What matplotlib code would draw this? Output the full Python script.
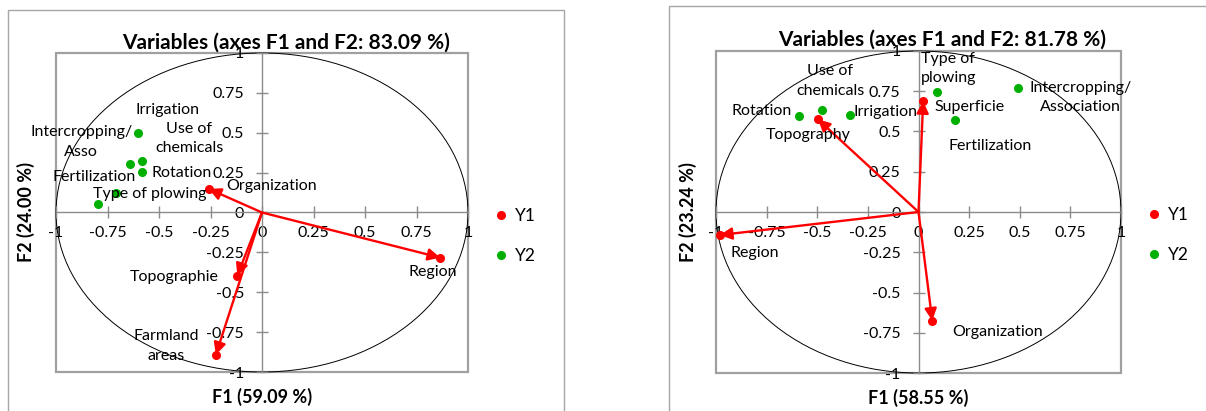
import matplotlib
matplotlib.use("Agg")
import matplotlib.pyplot as plt
from matplotlib.patches import Circle, Rectangle

plt.rcParams['font.family'] = ['Lato', 'DejaVu Sans']

# ---------------- data ----------------
titles = ["Variables (axes F1 and F2: 83.09 %)", "Variables (axes F1 and F2: 81.78 %)"]
xlabels = ["F1 (59.09 %)", "F1 (58.55 %)"]
ylabels = ["F2 (24.00 %)", "F2 (23.24 %)"]
ticks = [-1, -0.75, -0.5, -0.25, 0, 0.25, 0.5, 0.75, 1]
tick_labels = ["-1", "-0.75", "-0.5", "-0.25", "0", "0.25", "0.5", "0.75", "1"]
series_names = ["Y1", "Y2"]

# Left chart
left_y1_names = ["Organization", "Region", "Topographie", "Farmland\nareas"]
left_y1_x = [-0.259, 0.865, -0.120, -0.224]
left_y1_y = [0.148, -0.283, -0.396, -0.892]
left_y2_names = ["Irrigation", "Intercropping/\nAsso", "Use of\nchemicals", "Rotation",
                 "Fertilization", "Type of plowing"]
left_y2_x = [-0.600, -0.640, -0.582, -0.582, -0.709, -0.797]
left_y2_y = [0.496, 0.304, 0.321, 0.256, 0.123, 0.052]

# Right chart
right_y1_names = ["Topography", "Superficie", "Region", "Organization"]
right_y1_x = [-0.497, 0.023, -0.981, 0.068]
right_y1_y = [0.576, 0.689, -0.143, -0.675]
right_y2_names = ["Rotation", "Use of\nchemicals", "Irrigation", "Type of\nplowing",
                  "Fertilization", "Intercropping/\nAssociation"]
right_y2_x = [-0.591, -0.476, -0.337, 0.092, 0.178, 0.492]
right_y2_y = [0.598, 0.634, 0.604, 0.747, 0.571, 0.772]

# ---------------- styles ----------------
RED = "#ff0000"
GREEN = "#00b000"
# label offsets in pixels (dx, dy) from each point
left_y1_off = [(63, 3), (-7, -14), (-63, -1), (-50, 9)]
left_y2_off = [(29, 23), (-49, 22), (47, 23), (40, -1), (-22, 16), (52, 10)]
right_y1_off = [(-10, -16), (46, -6), (35, -18), (65, -11)]
right_y2_off = [(-37, 5), (8, 29), (35, 3), (11, 23), (36, -26), (62, -10)]

W, H = 1206, 411
fig = plt.figure(figsize=(W / 100, H / 100), dpi=100)


def fx(px):
    return px / W


def fy(py):
    return 1 - py / H


# panel borders (extend past the bottom / right of the image)
fig.patches.append(Rectangle((fx(8), fy(430)), fx(564 - 8), (430 - 9.5) / H, transform=fig.transFigure,
                             fill=False, edgecolor="#a6a6a6", lw=1.0))
fig.patches.append(Rectangle((fx(669), fy(430)), fx(560), (430 - 6) / H, transform=fig.transFigure,
                             fill=False, edgecolor="#a6a6a6", lw=1.0))

ax_rects = [
    [fx(56), fy(372), fx(468 - 56), (372 - 53) / H],
    [fx(716), fy(373), fx(1121 - 716), (373 - 51) / H],
]
title_pos = [(286, 43), (942, 40)]
xlabel_pos = [(262, 397), (918, 398)]
ylabel_pos = [(26, 212), (688, 212)]
legend_pos = [(495.5, 236), (1148.4, 235)]

charts = [
    (left_y1_x, left_y1_y, left_y1_names, left_y1_off, left_y2_x, left_y2_y, left_y2_names, left_y2_off),
    (right_y1_x, right_y1_y, right_y1_names, right_y1_off, right_y2_x, right_y2_y, right_y2_names, right_y2_off),
]

for i, (y1x, y1y, y1n, y1o, y2x, y2y, y2n, y2o) in enumerate(charts):
    ax = fig.add_axes(ax_rects[i])
    ax.set_xlim(-1, 1)
    ax.set_ylim(-1, 1)
    for s in ["top", "right"]:
        ax.spines[s].set_visible(False)
    for s in ["left", "bottom"]:
        ax.spines[s].set_position("zero")
        ax.spines[s].set_color("#8c8c8c")
        ax.spines[s].set_linewidth(1.0)
    ax.add_patch(Rectangle((0, 0), 1, 1, transform=ax.transAxes, fill=False,
                           edgecolor="#a0a0a0", lw=1.6, clip_on=False, zorder=0))
    ax.set_xticks(ticks)
    ax.set_xticklabels(tick_labels)
    ax.set_yticks(ticks)
    ax.set_yticklabels(tick_labels)
    ax.tick_params(direction="inout", length=8, width=1.0, color="#8c8c8c",
                   labelsize=11.5, labelcolor="black")
    ax.tick_params(axis="x", pad=6)
    ax.tick_params(axis="y", pad=9)
    ax.add_patch(Circle((0, 0), 1, fill=False, edgecolor="black", lw=0.7, clip_on=False, zorder=1))

    # arrows and Y1 points
    for x, y in zip(y1x, y1y):
        ax.annotate("", xy=(x, y), xytext=(0, 0),
                    arrowprops=dict(arrowstyle="-|>", color=RED, lw=1.7, mutation_scale=18,
                                    shrinkA=0, shrinkB=0), zorder=3)
    ax.plot(y1x, y1y, "o", color=RED, markersize=5.5, zorder=4, clip_on=False, label=series_names[0])
    ax.plot(y2x, y2y, "o", color=GREEN, markersize=5.5, zorder=4, clip_on=False, label=series_names[1])

    for x, y, n, o in list(zip(y1x, y1y, y1n, y1o)) + list(zip(y2x, y2y, y2n, y2o)):
        ax.annotate(n, xy=(x, y), xytext=o, textcoords="offset pixels", ha="center", va="center",
                    fontsize=11.5, linespacing=1.5, zorder=5)

    fig.text(fx(title_pos[i][0]), fy(title_pos[i][1]), titles[i], ha="center", va="center",
             fontsize=15, fontweight="bold")
    fig.text(fx(xlabel_pos[i][0]), fy(xlabel_pos[i][1]), xlabels[i], ha="center", va="center",
             fontsize=13, fontweight="bold")
    fig.text(fx(ylabel_pos[i][0]), fy(ylabel_pos[i][1]), ylabels[i], ha="center", va="center",
             fontsize=13, fontweight="bold", rotation=90)
    leg = ax.legend(loc="center left", bbox_to_anchor=(fx(legend_pos[i][0]), fy(legend_pos[i][1])),
                    bbox_transform=fig.transFigure, frameon=False, fontsize=12.5,
                    handlelength=0.6, handletextpad=0.5, labelspacing=1.4, borderpad=0,
                    borderaxespad=0)

fig.savefig("out.png", dpi=100)
